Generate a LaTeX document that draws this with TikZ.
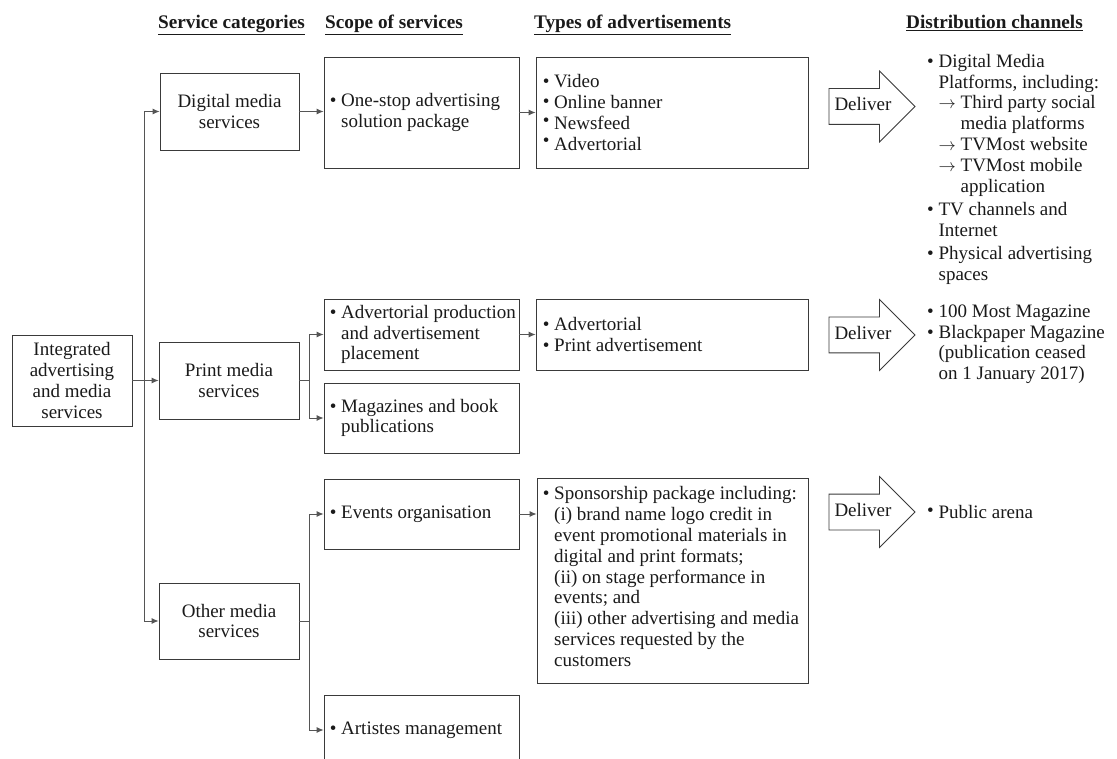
\documentclass[tikz,border=0pt]{standalone}
\usepackage{fontspec}
\setmainfont{Liberation Serif}
\usetikzlibrary{arrows.meta,shapes.arrows,calc}
\definecolor{txtc}{HTML}{1A1A1A}
\definecolor{boxc}{HTML}{3A3A3A}
\definecolor{linec}{HTML}{555555}
\newcommand{\bl}{\textbullet\ }
\newcommand{\hg}{\phantom{\textbullet\ }}
\newcommand{\ra}{$\rightarrow$\ }
\newcommand{\rg}{\phantom{$\rightarrow$}\ }
\begin{document}
\begin{tikzpicture}[x=1pt,y=-1pt,
  font=\fontsize{19}{20.8}\selectfont, text=txtc,
  cbox/.style={draw=boxc, line width=0.8pt, align=center, inner sep=2pt},
  ebox/.style={draw=boxc, line width=0.8pt, inner sep=0pt},
  txt/.style={align=left, inner sep=0pt, anchor=west},
  hdr/.style={font=\fontsize{19.2}{20.8}\selectfont\bfseries, anchor=base west, inner sep=0pt},
  dist/.style={align=left, inner sep=0pt, anchor=north west},
  single/.style={inner sep=0pt, anchor=base west},
  conn/.style={draw=linec, line width=0.9pt, -{Latex[length=7pt,width=6pt]}},
  link/.style={draw=linec, line width=0.9pt},
  dlv/.style={single arrow, draw=boxc, line width=0.8pt, single arrow head extend=17.5pt,
    minimum height=86pt, text height=13pt, text depth=4pt, inner ysep=9pt, inner xsep=2pt}
]
\fill[white] (0,0) rectangle (1117,759);
\useasboundingbox (0,0) rectangle (1117,759);

% headers
\node[hdr] (h1) at (158,29) {\underline{Service categories}};
\node[hdr] (h2) at (325,29) {\underline{Scope of services}};
\node[hdr] (h3) at (534,29) {\underline{Types of advertisements}};
\node[hdr] (h4) at (906,29) {\underline{Distribution channels}};

% left root
\node[cbox, minimum width=120pt, minimum height=91pt] (integ) at (72,380.5) {Integrated\\advertising\\and media\\services};

% service categories
\node[cbox, minimum width=139pt, minimum height=77pt] (dig) at (229.5,111.5) {Digital media\\services};
\node[cbox, minimum width=140pt, minimum height=77pt] (print) at (229,380.5) {Print media\\services};
\node[cbox, minimum width=140pt, minimum height=76pt] (other) at (229,621) {Other media\\services};

% scope boxes
\node[ebox, minimum width=195pt, minimum height=111pt] (onestop) at (421.5,112.5) {};
\node[txt] (onestopt) at ([xshift=6pt]onestop.west) {\bl One-stop advertising\\\hg solution package};
\node[ebox, minimum width=195pt, minimum height=71pt] (advprod) at (421.5,334.5) {};
\node[txt] (advprodt) at ([xshift=6pt]advprod.west) {\bl Advertorial production\\\hg and advertisement\\\hg placement};
\node[ebox, minimum width=195pt, minimum height=70pt] (mag) at (421.5,418) {};
\node[txt] (magt) at ([xshift=6pt]mag.west) {\bl Magazines and book\\\hg publications};
\node[ebox, minimum width=195pt, minimum height=70pt] (events) at (421.5,514) {};
\node[txt] (eventst) at ([xshift=6pt]events.west) {\bl Events organisation};
\begin{scope}
\clip (0,0) rectangle (1117,759);
\node[ebox, minimum width=195pt, minimum height=70pt] (artistes) at (421.5,730) {};
\end{scope}
\node[txt] (artistest) at ([xshift=6pt]artistes.west) {\bl Artistes management};

% types boxes
\node[ebox, minimum width=272pt, minimum height=111pt] (types1) at (672,112.5) {};
\node[txt] (types1t) at ([xshift=7pt]types1.west) {\bl Video\\\raisebox{0.12ex}{\textbullet}\ Online banner\\\raisebox{0.35ex}{\textbullet}\ Newsfeed\\\raisebox{0.4ex}{\textbullet}\ Advertorial};
\node[ebox, minimum width=272pt, minimum height=71pt] (types2) at (672,334.5) {};
\node[txt] (types2t) at ([xshift=7pt]types2.west) {\bl Advertorial\\\bl Print advertisement};
\node[ebox, minimum width=271pt, minimum height=205pt] (spons) at (672.5,580.5) {};
\node[txt] (sponst) at ([xshift=6pt,yshift=4pt]spons.west) {\bl Sponsorship package including:\\
\hg (i) brand name logo credit in\\
\hg event promotional materials in\\
\hg digital and print formats;\\
\hg (ii) on stage performance in\\
\hg events; and\\
\hg (iii) other advertising and media\\
\hg services requested by the\\
\hg customers};

% deliver arrows
\node[dlv] (dlv1) at (863,106.5) {Deliver};
\node[dlv] (dlv2) at (863,335) {Deliver};
\node[dlv] (dlv3) at (863,512) {Deliver};

% distribution channels
\node[dist] (dc1) at (927,54) {\bl Digital Media\\
\hg Platforms, including:\\
\hg \ra Third party social\\
\hg \rg media platforms\\
\hg \ra TVMost website\\
\hg \ra TVMost mobile\\
\hg \rg application\\[2.5pt]
\bl TV channels and\\
\hg Internet\\[2.5pt]
\bl Physical advertising\\
\hg spaces};
\node[dist] (dc2) at (927,304.5) {\bl 100 Most Magazine\\
\bl Blackpaper Magazine\\
\hg (publication ceased\\
\hg on 1 January 2017)};
\node[single] (dc3) at (927,518) {\raisebox{0.2ex}{\textbullet}\ Public arena};

% connectors
\coordinate (tr) at (144,0);
\coordinate (pb) at (309,0);
\draw[link] (tr |- dig.west) -- (tr |- other.west);
\draw[conn] (tr |- dig.west) -- (dig.west);
\draw[conn] (tr |- other.west) -- (other.west);
\draw[conn] (integ.east) -- (print.west);
\draw[conn] (dig.east) -- (dig.east -| onestop.west);
\draw[conn] (onestop.east) -- (onestop.east -| types1.west);
\draw[link] (print.east) -- (pb |- print.east);
\draw[link] (pb |- advprod.west) -- (pb |- mag.west);
\draw[conn] (pb |- advprod.west) -- (advprod.west);
\draw[conn] (pb |- mag.west) -- (mag.west);
\draw[conn] (advprod.east) -- (advprod.east -| types2.west);
\draw[link] (other.east) -- (pb |- other.east);
\draw[link] (pb |- events.west) -- (pb |- artistes.west);
\draw[conn] (pb |- events.west) -- (events.west);
\draw[conn] (pb |- artistes.west) -- (artistes.west);
\draw[conn] (events.east) -- (events.east -| spons.west);
\end{tikzpicture}
\end{document}
